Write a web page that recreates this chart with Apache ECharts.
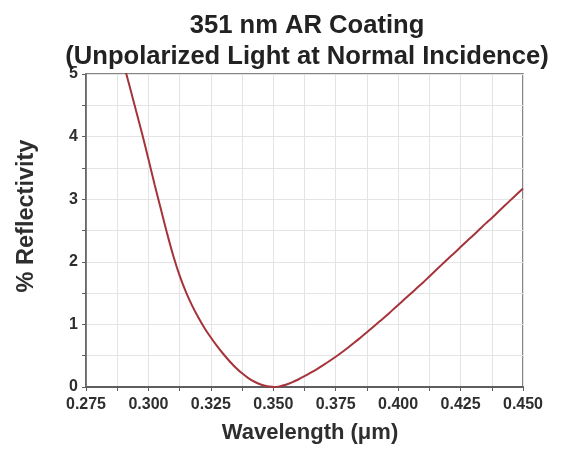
<!DOCTYPE html>
<html>
<head>
<meta charset="utf-8">
<script src="https://cdn.jsdelivr.net/npm/echarts@6/dist/echarts.min.js"></script>
<style>
html,body{margin:0;padding:0;background:#fff;}
#chart{width:571px;height:451px;}
</style>
</head>
<body>
<div id="chart"></div>
<script>
const titleLines = ['351 nm AR Coating', '(Unpolarized Light at Normal Incidence)'];
const xAxisName = 'Wavelength (\u03bcm)';
const yAxisName = '% Reflectivity';
const wavelength = [
  0.2900, 0.2925, 0.2950, 0.2975, 0.3000, 0.3025, 0.3050, 0.3075, 0.3100, 0.3125,
  0.3150, 0.3175, 0.3200, 0.3225, 0.3250, 0.3275, 0.3300, 0.3325, 0.3350, 0.3375,
  0.3400, 0.3425, 0.3450, 0.3475, 0.3500, 0.3507, 0.3525, 0.3550, 0.3575, 0.3600,
  0.3625, 0.3650, 0.3675, 0.3700, 0.3725, 0.3750, 0.3775, 0.3800, 0.3825, 0.3850,
  0.3875, 0.3900, 0.3925, 0.3950, 0.3975, 0.4000, 0.4025, 0.4050, 0.4075, 0.4100,
  0.4125, 0.4150, 0.4175, 0.4200, 0.4225, 0.4250, 0.4275, 0.4300, 0.4325, 0.4350,
  0.4375, 0.4400, 0.4425, 0.4450, 0.4475, 0.4500
];
const reflectivity = [
  5.17, 4.80, 4.42, 4.04, 3.64, 3.23, 2.84, 2.45, 2.09, 1.78,
  1.52, 1.30, 1.11, 0.94, 0.79, 0.652, 0.527, 0.412, 0.308, 0.218,
  0.143, 0.084, 0.041, 0.013, 0.001, 0.000, 0.010, 0.036, 0.074, 0.120,
  0.172, 0.228, 0.287, 0.350, 0.415, 0.484, 0.556, 0.632, 0.710, 0.792,
  0.875, 0.960, 1.045, 1.130, 1.220, 1.310, 1.400, 1.490, 1.580, 1.670,
  1.765, 1.860, 1.955, 2.050, 2.140, 2.235, 2.330, 2.420, 2.515, 2.610,
  2.700, 2.795, 2.890, 2.985, 3.078, 3.170
];
const xMin = 0.275, xMax = 0.450, xStep = 0.025;
const yMin = 0, yMax = 5, yStep = 1;

const chart = echarts.init(document.getElementById('chart'), null, {renderer: 'canvas'});
const axisColor = '#5e5e5e';
const textColor = '#2e2e2e';
const gridColor = '#e4e4e4';
const font = 'Liberation Sans, Arial, Helvetica, sans-serif';

chart.setOption({
  backgroundColor: '#fff',
  animation: false,
  title: {
    text: titleLines.join('\n'),
    left: 307,
    top: 10,
    padding: 0,
    textAlign: 'center',
    textStyle: {fontFamily: font, fontWeight: 'bold', fontSize: 25.6, lineHeight: 31, color: '#222'}
  },
  grid: {left: 86, right: 48, top: 74, bottom: 64, show: true, borderColor: axisColor, borderWidth: 1.5, backgroundColor: 'transparent'},
  xAxis: {
    type: 'value', min: xMin, max: xMax, interval: xStep,
    axisLine: {show: true, lineStyle: {color: axisColor, width: 2}},
    axisTick: {show: true, inside: false, length: 4, lineStyle: {color: axisColor}},
    minorTick: {show: true, splitNumber: 2, length: 4, lineStyle: {color: axisColor}},
    splitLine: {show: true, lineStyle: {color: gridColor, width: 1}},
    minorSplitLine: {show: true, lineStyle: {color: gridColor, width: 1}},
    axisLabel: {margin: 10, fontFamily: font, fontWeight: 'bold', fontSize: 16, color: textColor,
      formatter: v => v.toFixed(3)}
  },
  yAxis: {
    type: 'value', min: yMin, max: yMax, interval: yStep,
    axisLine: {show: true, lineStyle: {color: axisColor, width: 1.5}},
    axisTick: {show: true, inside: false, length: 4, lineStyle: {color: axisColor}},
    minorTick: {show: true, splitNumber: 2, length: 4, lineStyle: {color: axisColor}},
    splitLine: {show: true, lineStyle: {color: gridColor, width: 1}},
    minorSplitLine: {show: true, lineStyle: {color: gridColor, width: 1}},
    axisLabel: {margin: 8, fontFamily: font, fontWeight: 'bold', fontSize: 16, color: textColor}
  },
  graphic: [
    {type: 'text', x: 310, y: 433, style: {text: xAxisName, font: 'bold 22px ' + font, fill: textColor, align: 'center', verticalAlign: 'middle'}},
    {type: 'text', x: 27, y: 216, rotation: Math.PI / 2, style: {text: yAxisName, font: 'bold 23.5px ' + font, fill: textColor, align: 'center', verticalAlign: 'middle'}}
  ],
  series: [{
    type: 'line',
    data: wavelength.map((w, i) => [w, reflectivity[i]]),
    smooth: 0.3,
    showSymbol: false,
    clip: true,
    lineStyle: {color: '#a5343a', width: 2}
  }]
});
</script>
</body>
</html>
